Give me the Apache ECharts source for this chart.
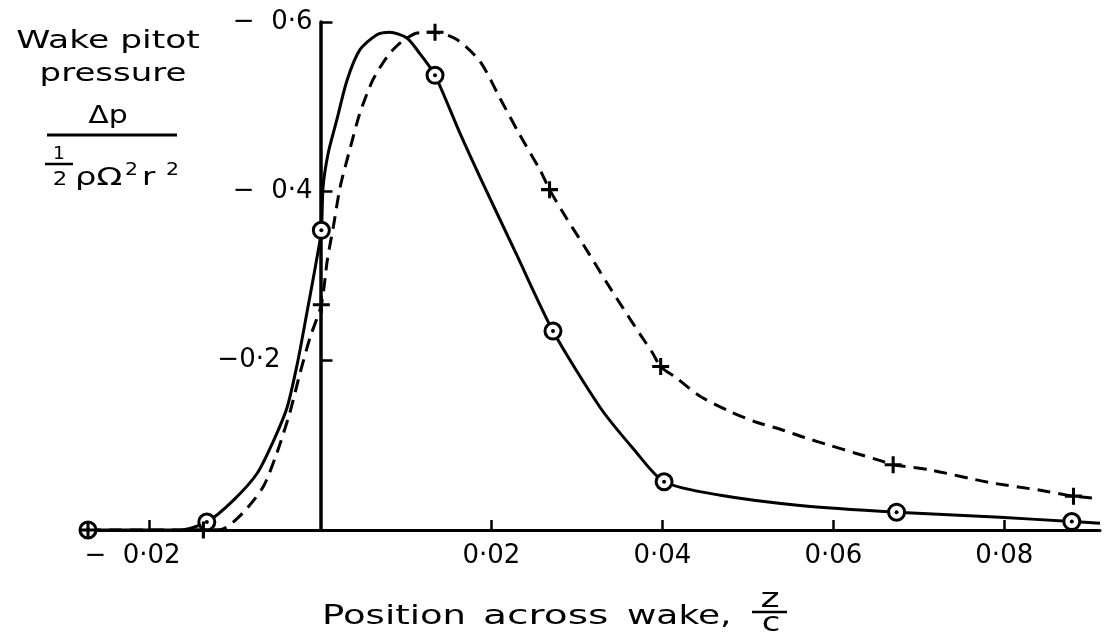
<!DOCTYPE html>
<html>
<head>
<meta charset="utf-8">
<script src="https://cdn.jsdelivr.net/npm/echarts@6/dist/echarts.min.js"></script>
<style>
  html, body { margin: 0; padding: 0; background: #fff; }
  #chart { width: 1104px; height: 641px; }
</style>
</head>
<body>
<div id="chart"></div>
<script>
// Tick values
const xTicks = [-0.02, 0.02, 0.04, 0.06, 0.08];
const yTicks = [-0.6, -0.4, -0.2];

// Measured points (circles, solid curve)
const circlePoints = [
  [-0.0272, 0], [-0.0133, -0.0094], [0.0001, -0.354], [0.0134, -0.537],
  [0.0272, -0.235], [0.0402, -0.057], [0.0674, -0.021], [0.0879, -0.01]
];
// Measured points (crosses, dashed curve)
const plusPoints = [
  [-0.0272, 0], [-0.0137, 0], [0.0001, -0.266], [0.0134, -0.588],
  [0.0268, -0.402], [0.0398, -0.193], [0.067, -0.077], [0.0881, -0.04]
];
// Faired curve traces
const solidTrace = [
  [-0.0272, 0], [-0.0164, 0], [-0.0133, -0.0094], [-0.0102, -0.035],
  [-0.0074, -0.067], [-0.0056, -0.103], [-0.0039, -0.145], [-0.0027, -0.197],
  [-0.0016, -0.256], [-0.0006, -0.311], [0.0001, -0.354], [0.0003, -0.405],
  [0.0009, -0.445], [0.0019, -0.484], [0.0031, -0.531], [0.0046, -0.567],
  [0.0066, -0.585], [0.0081, -0.588], [0.0101, -0.581], [0.0116, -0.563],
  [0.0134, -0.537], [0.0163, -0.469], [0.0187, -0.416], [0.023, -0.324],
  [0.0272, -0.235], [0.0327, -0.145], [0.0366, -0.096],
  [0.0402, -0.057], [0.0468, -0.041], [0.0561, -0.029], [0.0674, -0.021],
  [0.0795, -0.015], [0.0879, -0.01], [0.0912, -0.008]
];
const dashedTrace = [
  [-0.0272, 0], [-0.0137, 0], [-0.0115, -0.001], [-0.0091, -0.02],
  [-0.0067, -0.051], [-0.0051, -0.091], [-0.0036, -0.138], [-0.0024, -0.185],
  [-0.0012, -0.228], [0.0001, -0.266], [0.0008, -0.319], [0.0015, -0.358],
  [0.0023, -0.405], [0.0035, -0.452], [0.0046, -0.492], [0.0061, -0.531],
  [0.0078, -0.559], [0.0093, -0.575], [0.0113, -0.587], [0.0134, -0.588],
  [0.016, -0.579], [0.0187, -0.553], [0.021, -0.51], [0.0233, -0.467],
  [0.0257, -0.425], [0.0268, -0.402], [0.0288, -0.368], [0.0315, -0.325],
  [0.0335, -0.292], [0.0354, -0.262], [0.0374, -0.231], [0.0388, -0.21],
  [0.0398, -0.193], [0.0416, -0.18], [0.0444, -0.158], [0.0479, -0.14],
  [0.0511, -0.127], [0.0538, -0.119], [0.0567, -0.109], [0.0596, -0.1],
  [0.0625, -0.091], [0.0655, -0.082], [0.067, -0.077], [0.0713, -0.071],
  [0.0783, -0.056], [0.0842, -0.047], [0.0881, -0.04], [0.0912, -0.037]
];

const FONT = 'DejaVu Sans';
function fmt(v, d, gap) {
  const s = Math.abs(v).toFixed(d).replace('.', '·');
  return v < 0 ? '−' + gap + s : s;
}

const chart = echarts.init(document.getElementById('chart'), null, { renderer: 'canvas' });
const plusPath = 'path://M8.2,0H11.8V8.2H20V11.8H11.8V20H8.2V11.8H0V8.2H8.2Z';

function txt(text, x, y, size, sx, align) {
  return {
    type: 'text', x: x, y: y, scaleX: sx, silent: true,
    style: { text: text, font: size + 'px "' + FONT + '"', fill: '#000',
             align: align || 'center', verticalAlign: 'middle' }
  };
}
function line(x1, y1, x2, y2, w) {
  return { type: 'line', silent: true,
    shape: { x1: x1, y1: y1, x2: x2, y2: y2 },
    style: { stroke: '#000', lineWidth: w } };
}

const gridLeft = 88, gridWidth = 1012;
const xMin = -0.0272, xMax = 0.0912;
const zeroOffset = -gridWidth * (0 - xMin) / (xMax - xMin);
const labelFont = { fontSize: 26, fontFamily: FONT, color: '#000' };

chart.setOption({
  animation: false,
  backgroundColor: '#fff',
  grid: { left: gridLeft, width: gridWidth, top: 22, bottom: 111, containLabel: false },
  xAxis: {
    type: 'value', min: xMin, max: xMax,
    splitLine: { show: false },
    axisLine: { onZero: true, lineStyle: { color: '#000', width: 3 } },
    axisTick: { show: true, inside: true, length: 10, customValues: xTicks,
                lineStyle: { color: '#000', width: 2.5 } },
    axisLabel: {
      customValues: xTicks,
      formatter: v => v < 0 ? '{n|' + fmt(v, 2, '  ') + '}' : fmt(v, 2, ''),
      rich: { n: Object.assign({ padding: [0, 34, 0, 0] }, labelFont) },
      color: '#000', fontSize: 26, fontFamily: FONT, margin: 13
    }
  },
  yAxis: {
    type: 'value', min: -0.6, max: 0, inverse: true,
    offset: zeroOffset,
    splitLine: { show: false },
    axisLine: { onZero: false, lineStyle: { color: '#000', width: 3.5 } },
    axisTick: { show: true, inside: true, length: 12, customValues: yTicks,
                lineStyle: { color: '#000', width: 2.5 } },
    axisLabel: {
      customValues: yTicks,
      formatter: v => Math.abs(v + 0.2) < 1e-9
        ? '{s|' + fmt(v, 1, '') + '}'
        : fmt(v, 1, '  '),
      rich: { s: Object.assign({ padding: [0, 32, 0, 0] }, labelFont) },
      color: '#000', fontSize: 26, fontFamily: FONT, margin: 8
    }
  },
  series: [
    { type: 'line', data: solidTrace, smooth: 0.25, symbol: 'none', clip: false, z: 2,
      lineStyle: { color: '#000', width: 3 } },
    { type: 'line', data: dashedTrace, smooth: 0.25, symbol: 'none', clip: false, z: 2,
      lineStyle: { color: '#000', width: 3, type: [13, 8] } },
    { type: 'scatter', data: circlePoints, symbol: 'circle', symbolSize: 16, clip: false, z: 3,
      itemStyle: { color: '#fff', borderColor: '#000', borderWidth: 3, opacity: 1 } },
    { type: 'scatter', data: circlePoints, symbol: 'circle', symbolSize: 4, clip: false, z: 4,
      itemStyle: { color: '#000', opacity: 1 } },
    { type: 'scatter', data: plusPoints, symbol: plusPath, symbolSize: 17, clip: false, z: 5,
      itemStyle: { color: '#000', opacity: 1 } }
  ],
  graphic: [
    // Y-axis title
    txt('Wake pitot', 108, 41, 25, 1.38),
    txt('pressure', 113, 74, 25, 1.36),
    txt('Δp', 108, 116, 25, 1.2),
    line(47, 135, 177, 135, 3),
    txt('1', 59, 155, 17, 1.1),
    line(45, 164, 73, 164, 2.5),
    txt('2', 60, 180, 19, 1.2),
    txt('ρΩ', 75, 178, 25, 1.35, 'left'),
    txt('2', 125, 171, 17, 1.2, 'left'),
    txt('r', 142, 178, 25, 1.3, 'left'),
    txt('2', 166, 171, 17, 1.2, 'left'),
    // X-axis title
    txt('Position', 322, 617, 27, 1.37, 'left'),
    txt('across', 483, 617, 27, 1.45, 'left'),
    txt('wake,', 627, 617, 27, 1.33, 'left'),
    txt('z', 770, 600, 26, 1.4),
    line(752, 612, 787, 612, 2.5),
    txt('c', 771, 624, 26, 1.3)
  ]
});
</script>
</body>
</html>
